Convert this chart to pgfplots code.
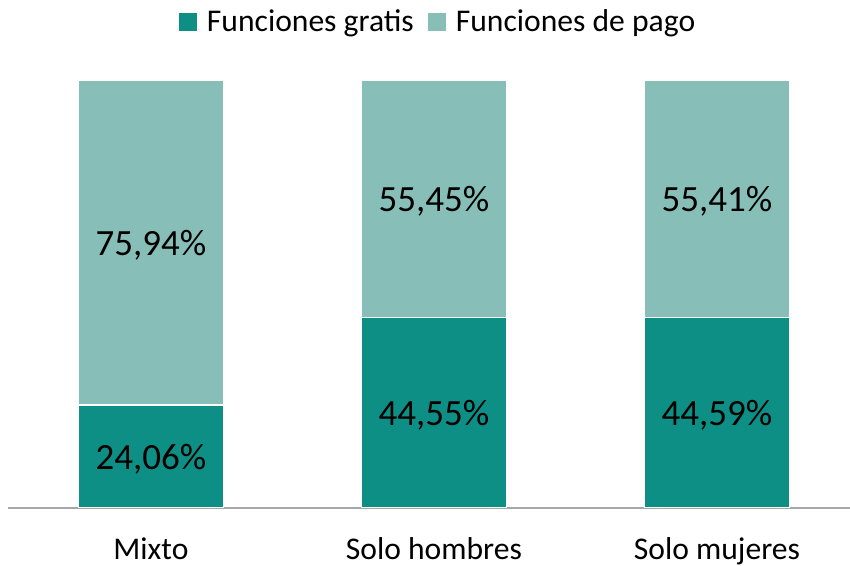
\documentclass[border=0pt]{standalone}
\usepackage{pgfplots}
\pgfplotsset{compat=1.18}
\usepackage{fontspec}
\setmainfont{Carlito}
\definecolor{dark}{HTML}{0E8F86}
\definecolor{light}{HTML}{87BFB8}
\definecolor{axisgray}{HTML}{A6A6A6}
\begin{document}
\begin{tikzpicture}
\path[use as bounding box] (0pt,0pt) rectangle (425pt,283pt);
\begin{axis}[
  at={(4pt,29pt)}, anchor=south west,
  scale only axis, width=421pt, height=214pt,
  xmin=-0.505, xmax=2.47, ymin=0, ymax=100,
  ybar stacked, bar width=72.5pt,
  axis x line*=bottom, axis y line=none,
  x axis line style={-, axisgray, line width=1pt},
  xtick={0,1,2}, xticklabels={Mixto,Solo hombres,Solo mujeres},
  major tick length=0pt,
  xticklabel style={font=\fontsize{15.8pt}{18pt}\selectfont, anchor=base, yshift=-26pt},
  ytick=\empty,
  legend columns=2,
  legend style={draw=none, fill=none, at={(0.512,1)}, anchor=center, yshift=29pt,
    font=\fontsize{15.8pt}{18pt}\selectfont,
    /tikz/every odd column/.append style={column sep=3pt},
    /tikz/every even column/.append style={column sep=5pt}},
  legend image code/.code={\fill[#1,draw=none] (0pt,-4.5pt) rectangle (9pt,4.5pt);},
]
\addplot[fill=dark, draw=white, line width=0.6pt] coordinates {(0,24.06) (1,44.55) (2,44.59)};
\addplot[fill=light, draw=white, line width=0.6pt] coordinates {(0,75.94) (1,55.45) (2,55.41)};
\legend{Funciones gratis, Funciones de pago}
\end{axis}
\begin{axis}[
  at={(4pt,29pt)}, anchor=south west,
  scale only axis, width=421pt, height=214pt,
  xmin=-0.505, xmax=2.47, ymin=0, ymax=100,
  hide axis,
  /pgf/number format/assume math mode=true,
  nodes near coords={\pgfmathprintnumber[use comma, fixed, fixed zerofill, precision=2, assume math mode=true]{\pgfplotspointmeta}\%},
  nodes near coords style={font=\fontsize{18.5pt}{22pt}\selectfont, anchor=base, yshift=-6.5pt, text=black},
]
\addplot[draw=none, mark=none, point meta=explicit] table[meta=v] {
x y v
0 12.03 24.06
1 22.275 44.55
2 22.295 44.59
0 62.03 75.94
1 72.275 55.45
2 72.295 55.41
};
\end{axis}
\end{tikzpicture}
\end{document}
